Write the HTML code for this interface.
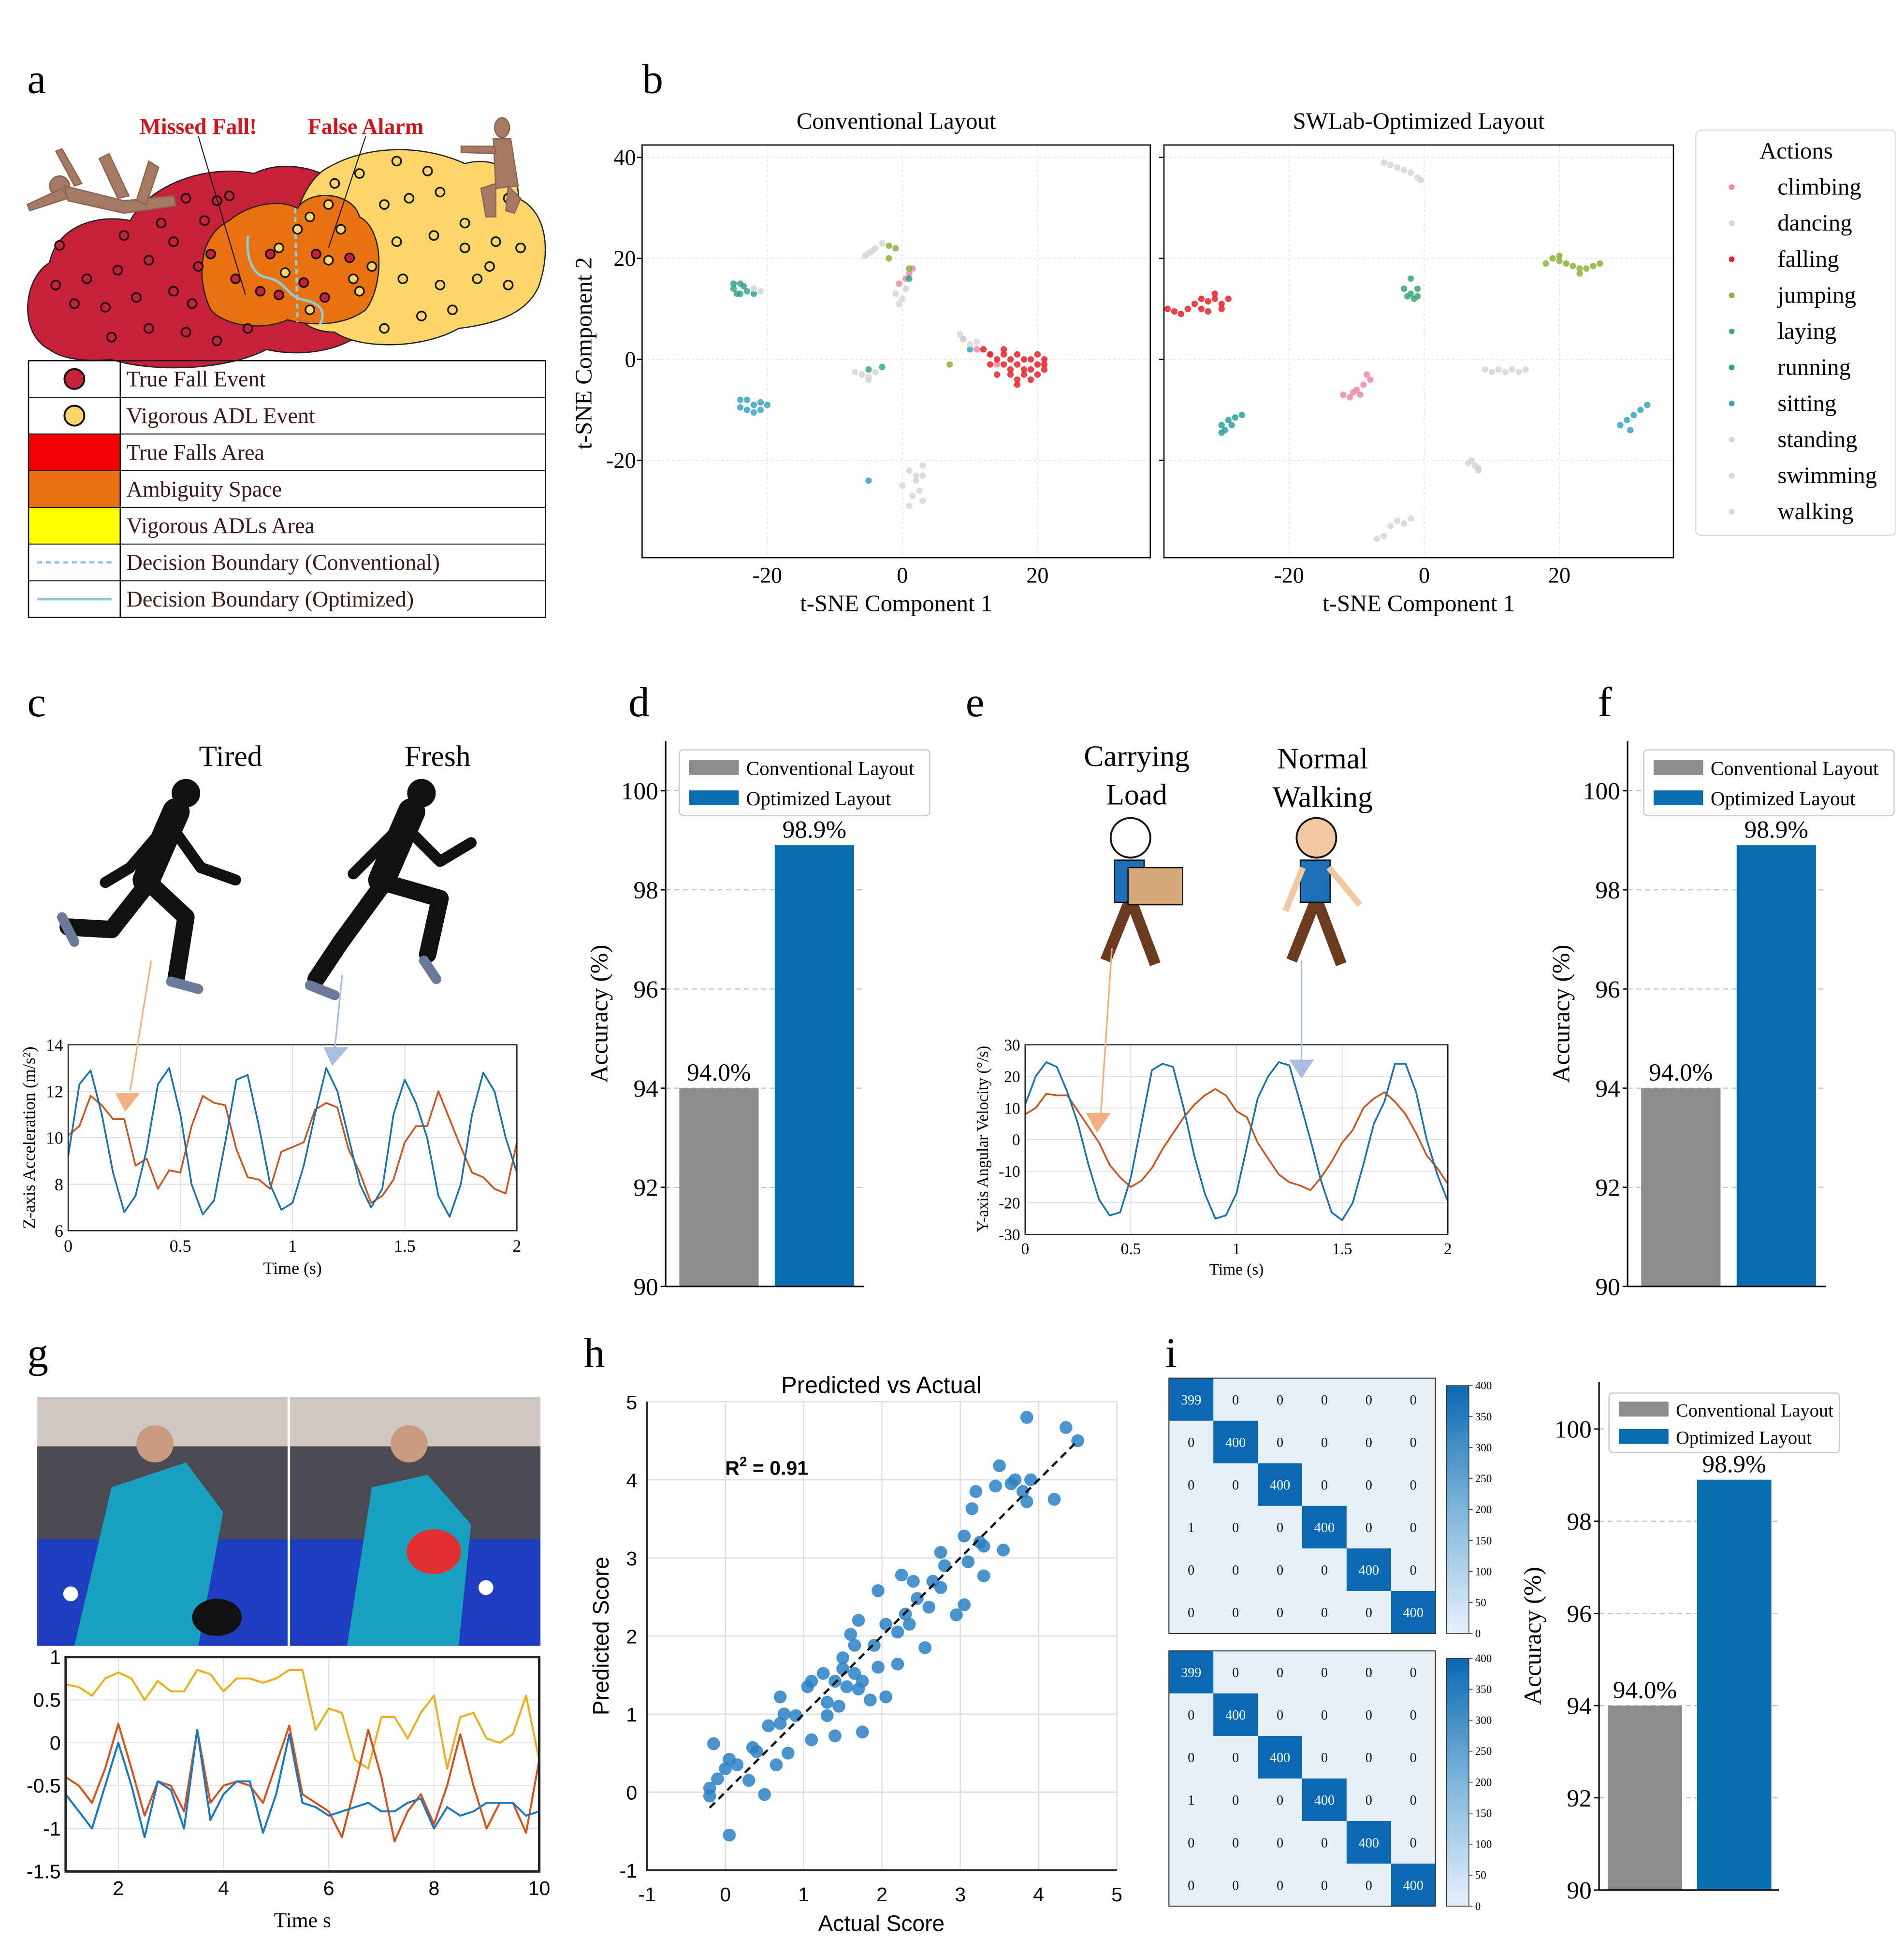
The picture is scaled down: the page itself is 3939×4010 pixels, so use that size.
<!DOCTYPE html>
<html><head><meta charset="utf-8">
<style>
html,body{margin:0;padding:0;background:#fff;}
svg{display:block;}
.serif{font-family:"Liberation Serif",serif;}
.sans{font-family:"Liberation Sans",sans-serif;}
</style></head>
<body>
<svg id="fig" xmlns="http://www.w3.org/2000/svg" width="3939" height="4010" viewBox="0 0 1536 1563.7" font-family="Liberation Serif, serif">
<rect x="0" y="0" width="1536" height="1564" fill="#fff"/>
<!-- panel labels -->
<g font-size="34" fill="#000">
<text x="22" y="75">a</text>
<text x="518" y="75">b</text>
<text x="22" y="578">c</text>
<text x="507" y="578">d</text>
<text x="779" y="578">e</text>
<text x="1289" y="578">f</text>
<text x="22" y="1103">g</text>
<text x="471" y="1103">h</text>
<text x="940" y="1103">i</text>
</g>

<!-- PANEL A -->
<g id="pa">
<path d="M40,282 C15,270 18,225 40,212 C45,185 75,172 105,178 C120,150 165,132 205,140 C235,125 280,140 300,175 L305,250 C295,280 250,290 215,282 C180,300 120,300 90,290 C70,292 50,290 40,282 Z" fill="#c8203a" stroke="#222" stroke-width="1"/>
<path d="M240,255 C225,220 235,150 265,135 C300,115 345,118 375,132 C400,125 420,140 418,160 C440,170 445,200 435,230 C425,255 395,262 370,265 C340,282 290,282 270,268 C255,268 245,262 240,255 Z" fill="#fdd66a" stroke="#222" stroke-width="1"/>
<path d="M170,250 C158,225 160,190 185,178 C200,165 225,160 240,168 C250,152 285,155 290,175 C310,185 310,230 295,250 C275,265 245,262 232,258 C210,268 180,262 170,250 Z" fill="#e8720f" stroke="#222" stroke-width="1"/>
<path d="M238,168 L240,260" stroke="#8fcbd8" stroke-width="2" stroke-dasharray="4,3" fill="none"/>
<path d="M200,190 C198,210 205,222 215,224 C230,226 232,240 245,242 C262,245 262,255 258,262" stroke="#8fcbd8" stroke-width="2" fill="none"/>
<g id="adots"></g>
<line x1="160" y1="110" x2="198" y2="238" stroke="#111" stroke-width="0.8"/>
<line x1="295" y1="110" x2="265" y2="200" stroke="#111" stroke-width="0.8"/>
<text x="160" y="108" text-anchor="middle" font-size="18" font-weight="bold" fill="#d0121b">Missed Fall!</text>
<text x="295" y="108" text-anchor="middle" font-size="18" font-weight="bold" fill="#d0121b">False Alarm</text>
<!-- mannequins -->
<g fill="#a57a62" stroke="#8a6450" stroke-width="1">
<ellipse cx="48" cy="150" rx="8" ry="8"/>
<path d="M52,150 L100,162 L140,158 L142,166 L100,172 L55,162 Z"/>
<path d="M95,160 L80,128 L88,124 L104,158 Z"/>
<path d="M110,162 L120,130 L128,135 L118,165 Z"/>
<path d="M50,152 L22,165 L24,170 L55,160 Z"/>
<path d="M60,150 L45,122 L50,120 L66,148 Z"/>
</g>
<g fill="#a57a62" stroke="#8a6450" stroke-width="1">
<ellipse cx="405" cy="103" rx="6" ry="8"/>
<path d="M398,112 L412,112 L418,150 L400,152 Z"/>
<path d="M399,118 L372,118 L372,123 L400,124 Z"/>
<path d="M400,148 L388,152 L392,175 L400,175 Z"/>
<path d="M410,150 L420,160 L415,172 L408,170 Z"/>
</g>
</g>
<g id="alegend" font-size="18" fill="#3a1a1a"></g>

<!-- PANEL B -->
<g id="pb"></g>

<!-- PANEL C -->
<g id="pc"></g>
<!-- PANEL E -->
<g id="pe"></g>
<!-- PANEL D, F, I bars -->
<g id="pd"></g><g id="pf"></g><g id="pi2"></g>
<!-- PANEL G -->
<g id="pg"></g>
<!-- PANEL H -->
<g id="ph"></g>
<!-- PANEL I matrices -->
<g id="pi"></g>
</svg>
<script>
// ======== DATA ========
// Panel b: t-SNE clusters (conventional)
const actions = ['climbing','dancing','falling','jumping','laying','running','sitting','standing','swimming','walking'];
const actionColors = ['#ec8aa2','#d6d6d6','#e82028','#8ab43a','#3aa878','#2aa39a','#3aa3c6','#d6d6d6','#d6d6d6','#d6d6d6'];
const convClimbing = [[0.5,16],[1,17],[-0.5,15],[1.5,18],[9,4],[11,2],[13,1],[14,-1]];
const convDancing = [[-4,22],[-5,21],[-3,23],[-4.5,21.5],[-5.5,20.5]];
const convFalling = [[12,2],[13,1],[14,0],[15,-1],[15,1],[16,0],[16,-2],[17,-1],[17,1],[18,0],[18,-3],[19,-2],[19,0],[20,-1],[20,-3],[21,-1],[21,0],[14,-3],[16,-3],[17,-4],[18,-2],[19,-4],[15,2],[20,1],[13,-1],[17,-5],[21,-2]];
const convJumping = [[-2,22.5],[-1,22],[7,-1],[1,18],[-2,20]];
const convLaying = [[-25,14],[-24,15],[-23,13.5],[-24.5,13],[-5,-2],[-3,-1.5]];
const convRunning = [[-24,13],[-23.5,14.5],[-22,13],[-25,15],[1,16]];
const convSitting = [[-24,-8],[-23,-10],[-22,-9],[-21,-8.5],[-20,-9],[-23,-8],[-22,-10.5],[-24,-9.5],[-21,-10],[-5,-24],[10,2]];
const convStanding = [[-1,13],[0,12],[0.5,14],[-0.5,11],[-22,14],[-21,13.5]];
const convSwimming = [[-6,-3],[-5,-3.5],[-4,-2.5],[-7,-2.5],[-5,-4],[9,4],[10,3],[11,3.5],[8.5,5]];
const convWalking = [[1,-22],[2,-24],[3,-23],[0,-25],[1.5,-27],[2.5,-26],[3,-28],[1,-29],[2,-23],[3,-21]];
// Panel b: t-SNE clusters (optimized)
const optClimbing = [[-12,-7],[-11,-7.5],[-10,-6],[-9,-5],[-8,-4],[-9.5,-7],[-10.5,-6.5],[-8.5,-3]];
const optDancing = [[-6,39],[-5,38.5],[-4,38],[-3,37.5],[-2,37],[-1,36],[-0.5,35.5]];
const optFalling = [[-38,10],[-36,9],[-35,10],[-34,11],[-33,10],[-32,11.5],[-31,12],[-30,11],[-29,12],[-32,9.5],[-30,10],[-33,12],[-37,9.5],[-31,13]];
const optJumping = [[18,19],[19,20],[20,19.5],[21,19],[22,18.5],[23,18],[24,18],[25,18.5],[20,20.5],[26,19],[23,17]];
const optLaying = [[-2,13],[-1,14],[-2.5,12.5],[-1.5,12],[-3,14],[-2,16],[-1,12.5]];
const optRunning = [[-30,-13],[-29,-12],[-28,-11.5],[-27,-11],[-29.5,-14],[-28.5,-13],[-30,-14.5]];
const optSitting = [[29,-13],[30,-12],[31,-11],[32,-10],[33,-9],[30.5,-14]];
const optStanding = [[9,-2],[10,-2.5],[11,-2],[12,-2.5],[13,-2],[15,-2],[14,-2.5]];
const optSwimming = [[7,-20],[7.5,-21],[8,-22],[6.5,-20.5],[8,-21.5]];
const optWalking = [[-6,-35],[-7,-35.5],[-4,-32],[-3,-32.5],[-2,-31.5],[-5,-33]];
const tsneTicksX = [-20,0,20];
const tsneTicksY = [40,20,0,-20];

// Panel c
const cTime = [0,0.05,0.1,0.15,0.2,0.25,0.3,0.35,0.4,0.45,0.5,0.55,0.6,0.65,0.7,0.75,0.8,0.85,0.9,0.95,1.0,1.05,1.1,1.15,1.2,1.25,1.3,1.35,1.4,1.45,1.5,1.55,1.6,1.65,1.7,1.75,1.8,1.85,1.9,1.95,2.0];
const cFresh = [9.2,12.3,12.9,11,8.5,6.8,7.5,9.5,12.3,13,11,8,6.7,7.3,9.8,12.5,12.7,10.5,8,6.9,7.2,8.8,11,13,12,10,8,7,7.8,11,12.5,11.5,10,7.5,6.6,8,11,12.8,12,10,8.5];
const cTired = [10.1,10.5,11.8,11.4,10.8,10.8,8.8,9.1,7.8,8.6,8.5,10.5,11.8,11.5,11.4,9.5,8.3,8.2,7.8,9.4,9.6,9.8,11.2,11.5,11.3,9.5,8.5,7.2,7.5,8.2,9.8,10.5,10.5,12,10.8,9.6,8.5,8.3,7.8,7.6,9.8];
const cTicksX = [0,0.5,1,1.5,2];
const cTicksY = [6,8,10,12,14];

// Panel e
const eTime = cTime;
const eNormal = [11,20,24.5,23,15,5,-8,-19,-24,-23,-12,5,22,24,23,10,-5,-17,-25,-24,-17,-2,13,20,24.5,23.5,12,0,-13,-23,-25.5,-20,-8,5,12,24,24,15,0,-11,-19.5];
const eLoad = [8,10,14.5,14,14,9,4,-1,-8,-12,-15,-13,-9,-3,2,7,11,14,16,14,9,7,-1,-6,-11,-13.5,-14.5,-16,-12,-7,-1,3,10,13,15,12,8,2,-5,-9,-14];
const eTicksX = [0,0.5,1,1.5,2];
const eTicksY = [-30,-20,-10,0,10,20,30];

// Bars (d, f, i)
const barCategories = ['Conventional Layout','Optimized Layout'];
const barValues = [94.0,98.9];
const barLabels = ['94.0%','98.9%'];
const barTicks = [90,92,94,96,98,100];

// Panel g
const gTime = [1,1.25,1.5,1.75,2,2.25,2.5,2.75,3,3.25,3.5,3.75,4,4.25,4.5,4.75,5,5.25,5.5,5.75,6,6.25,6.5,6.75,7,7.25,7.5,7.75,8,8.25,8.5,8.75,9,9.25,9.5,9.75,10];
const gYellow = [0.68,0.65,0.55,0.75,0.82,0.75,0.5,0.72,0.6,0.6,0.85,0.8,0.6,0.75,0.75,0.7,0.75,0.85,0.85,0.15,0.4,0.35,-0.2,-0.3,0.3,0.3,0.05,0.35,0.55,-0.3,0.3,0.35,0.05,0,0.1,0.55,-0.2];
const gOrange = [-0.4,-0.5,-0.7,-0.3,0.22,-0.3,-0.85,-0.45,-0.5,-0.8,0.15,-0.7,-0.5,-0.45,-0.5,-0.7,-0.25,0.2,-0.6,-0.7,-0.8,-1.1,-0.5,0.15,-0.4,-1.15,-0.8,-0.6,-0.95,-0.5,0.1,-0.5,-1.0,-0.7,-0.7,-1.05,-0.2];
const gBlue = [-0.6,-0.8,-1.0,-0.5,0,-0.5,-1.1,-0.45,-0.55,-1.0,0.15,-0.9,-0.6,-0.45,-0.45,-1.05,-0.6,0.1,-0.7,-0.75,-0.85,-0.8,-0.75,-0.7,-0.8,-0.8,-0.7,-0.65,-1.0,-0.75,-0.85,-0.8,-0.7,-0.7,-0.7,-0.85,-0.8];
const gTicksX = [2,4,6,8,10];
const gTicksY = [-1.5,-1,-0.5,0,0.5,1];

// Panel h
const hActual = [-0.2,-0.2,-0.15,-0.1,0,0.05,0.05,0.15,0.3,0.35,0.4,0.5,0.55,0.65,0.7,0.7,0.75,0.8,0.9,1.05,1.1,1.1,1.25,1.3,1.3,1.4,1.4,1.45,1.5,1.5,1.55,1.6,1.65,1.65,1.7,1.7,1.75,1.75,1.85,1.9,1.95,1.95,2.05,2.05,2.2,2.2,2.25,2.3,2.35,2.4,2.45,2.55,2.6,2.65,2.75,2.75,2.8,2.95,3.05,3.05,3.1,3.15,3.2,3.25,3.3,3.3,3.45,3.5,3.55,3.65,3.7,3.8,3.85,3.85,3.9,4.2,4.35,4.5];
const hPred = [0.05,-0.05,0.62,0.17,0.3,0.42,-0.55,0.35,0.15,0.57,0.52,-0.03,0.85,0.35,1.22,0.88,1.0,0.5,0.98,1.35,1.42,0.67,1.52,1.15,0.98,1.42,0.72,1.1,1.58,1.72,1.35,2.02,1.88,1.52,1.32,2.2,1.42,0.77,1.18,1.88,2.58,1.6,2.15,1.22,2.05,1.64,2.78,2.28,2.15,2.7,2.48,1.85,2.37,2.7,3.07,2.62,2.9,2.27,3.28,2.4,2.95,3.63,3.85,3.2,3.15,2.77,3.92,4.18,3.1,3.95,4.0,3.85,4.8,3.72,4.0,3.75,4.67,4.5];
const hTicksX = [-1,0,1,2,3,4,5];
const hTicksY = [-1,0,1,2,3,4,5];

// Panel i confusion matrices
const cmTop = [[399,0,0,0,0,0],[0,400,0,0,0,0],[0,0,400,0,0,0],[1,0,0,400,0,0],[0,0,0,0,400,0],[0,0,0,0,0,400]];
const cmBottom = [[399,0,0,0,0,0],[0,400,0,0,0,0],[0,0,400,0,0,0],[1,0,0,400,0,0],[0,0,0,0,400,0],[0,0,0,0,0,400]];
const cbTicks = [0,50,100,150,200,250,300,350,400];

// ======== HELPERS ========
const NS = 'http://www.w3.org/2000/svg';
function mk(tag, parent, attrs){ const e=document.createElementNS(NS,tag); for(const k in attrs) e.setAttribute(k,attrs[k]); parent.appendChild(e); return e; }
function lin(d0,d1,r0,r1){ return v => r0 + (v-d0)*(r1-r0)/(d1-d0); }
function txt(parent, x, y, s, attrs){ const t=mk('text',parent,Object.assign({x:x,y:y},attrs||{})); t.textContent=s; return t; }
function poly(xs, ys, sx, sy){ return xs.map((v,i)=>(i?'L':'M')+sx(v).toFixed(2)+','+sy(ys[i]).toFixed(2)).join(''); }

// ======== PANEL A dots & legend ========
(function(){
  const g=document.getElementById('adots');
  const redDots=[[48,198],[70,225],[95,218],[120,210],[140,195],[165,178],[150,160],[175,162],[185,158],[130,180],[60,245],[85,248],[110,240],[140,235],[160,215],[45,230],[90,272],[120,265],[150,268],[175,275],[200,265],[190,225],[210,235],[218,205],[225,238],[245,228],[255,205],[262,240],[282,208],[155,245],[100,190],[170,205]];
  const yelDots=[[225,200],[240,185],[270,148],[290,140],[320,130],[345,138],[355,155],[310,165],[330,160],[375,180],[395,170],[410,160],[320,195],[350,190],[375,200],[400,195],[420,200],[300,215],[325,225],[355,230],[385,225],[410,230],[290,235],[340,255],[365,250],[310,265],[265,210],[275,185],[250,175],[230,220],[250,250],[285,225],[265,165],[395,215]];
  redDots.forEach(p=>{ const c=mk('circle',g,{cx:p[0],cy:p[1],r:3.6,fill:'#c8203a',stroke:'#111','stroke-width':1.3});
      });
  yelDots.forEach(p=>{ const c=mk('circle',g,{cx:p[0],cy:p[1],r:3.6,fill:'#fdd66a',stroke:'#111','stroke-width':1.3});
      });
  const L=document.getElementById('alegend');
  const rows=['True Fall Event','Vigorous ADL Event','True Falls Area','Ambiguity Space','Vigorous ADLs Area','Decision Boundary (Conventional)','Decision Boundary (Optimized)'];
  const y0=291, rh=29.6;
  rows.forEach((r,i)=>{
    const y=y0+i*rh;
    if(i===2||i===3||i===4){ const rc=mk('rect',L,{x:23,y:y,width:74,height:rh,fill:['#f00000','#e8720f','#ffff00'][i-2]});
        }
    if(i<2){ const c=mk('circle',L,{cx:60,cy:y+rh/2,r:8,fill:i?'#fdd66a':'#c8203a',stroke:'#111','stroke-width':1.5});
        }
    if(i===5||i===6){ const ln=mk('line',L,{x1:30,x2:90,y1:y+rh/2,y2:y+rh/2,stroke:'#8fcbd8','stroke-width':2,'stroke-dasharray':i===5?'4,3':'none'});
        }
    const t=txt(L,102,y+rh/2+6,r,{});
     
  });
  mk('rect',L,{x:23,y:y0,width:417,height:rh*7,fill:'none',stroke:'#111','stroke-width':1});
  mk('line',L,{x1:97,x2:97,y1:y0,y2:y0+rh*7,stroke:'#111','stroke-width':1});
  for(let i=1;i<7;i++) mk('line',L,{x1:23,x2:440,y1:y0+i*rh,y2:y0+i*rh,stroke:'#111','stroke-width':0.8});
})();

// ======== PANEL B ========
(function(){
  const g=document.getElementById('pb');
  const convSets=[convClimbing,convDancing,convFalling,convJumping,convLaying,convRunning,convSitting,convStanding,convSwimming,convWalking];
  const optSets=[optClimbing,optDancing,optFalling,optJumping,optLaying,optRunning,optSitting,optStanding,optSwimming,optWalking];
  const panels=[{x0:518,x1:928,x0v:728,title:'Conventional Layout',sets:convSets,name:'tsne-conventional'},
                {x0:939,x1:1350,x0v:1149,title:'SWLab-Optimized Layout',sets:optSets,name:'tsne-optimized'}];
  const sy=lin(0,20,290,208.5);
  panels.forEach((p,pi)=>{
    const sx=lin(0,20,p.x0v,p.x0v+109);
    const pg=mk('g',g,{});
     
    tsneTicksX.forEach(v=>{ mk('line',pg,{x1:sx(v),x2:sx(v),y1:117,y2:450,stroke:'#e6e6e6','stroke-width':0.8,'stroke-dasharray':'2,2'});
      const t=txt(pg,sx(v),470,String(v),{'text-anchor':'middle','font-size':18});   });
    tsneTicksY.forEach(v=>{ mk('line',pg,{x1:p.x0,x2:p.x1,y1:sy(v),y2:sy(v),stroke:'#e6e6e6','stroke-width':0.8,'stroke-dasharray':'2,2'});
      mk('line',pg,{x1:p.x0-4,x2:p.x0,y1:sy(v),y2:sy(v),stroke:'#000','stroke-width':1});
      if(pi===0){ const t=txt(pg,p.x0-5,sy(v)+6,String(v),{'text-anchor':'end','font-size':18});   } });
    p.sets.forEach((s,si)=>{ s.forEach(pt=>{ const c=mk('circle',pg,{cx:sx(pt[0]),cy:sy(pt[1]),r:2.6,fill:actionColors[si],'fill-opacity':0.85});
        }); });
    mk('rect',pg,{x:p.x0,y:117,width:p.x1-p.x0,height:333,fill:'none',stroke:'#000','stroke-width':1});
    const tt=txt(pg,(p.x0+p.x1)/2,104,p.title,{'text-anchor':'middle','font-size':19});  
    const xl=txt(pg,(p.x0+p.x1)/2,493,'t-SNE Component 1',{'text-anchor':'middle','font-size':19});  
  });
  const yl=txt(g,0,0,'t-SNE Component 2',{'text-anchor':'middle','font-size':19,transform:'translate(477,285) rotate(-90)'});
   
  const lg=mk('g',g,{});  
  mk('rect',lg,{x:1368,y:105,width:161,height:327,rx:4,fill:'#fff',stroke:'#ddd','stroke-width':1});
  const lt=txt(lg,1449,128,'Actions',{'text-anchor':'middle','font-size':19});  
  actions.forEach((a,i)=>{ const y=151+i*29.1;
    const c=mk('circle',lg,{cx:1397,cy:y,r:2.3,fill:actionColors[i]});  
    const t=txt(lg,1434,y+6,a,{'font-size':19});   });
})();

// ======== LINE PLOTS C, E ========
function linePlot(gid, o){
  const g=document.getElementById(gid);
  const sx=lin(o.xd[0],o.xd[1],o.x0,o.x1), sy=lin(o.yd[0],o.yd[1],o.y1,o.y0);
  const pg=mk('g',g,{});  
  o.tx.forEach(v=>{ mk('line',pg,{x1:sx(v),x2:sx(v),y1:o.y0,y2:o.y1,stroke:'#e0e0e0','stroke-width':0.8});
    const t=txt(pg,sx(v),o.y1+o.tfs+3,String(v),{'text-anchor':'middle','font-size':o.tfs,'font-family':o.ff});   });
  o.ty.forEach(v=>{ mk('line',pg,{x1:o.x0,x2:o.x1,y1:sy(v),y2:sy(v),stroke:'#e0e0e0','stroke-width':0.8});
    const t=txt(pg,o.x0-4,sy(v)+o.tfs*0.35,String(v),{'text-anchor':'end','font-size':o.tfs,'font-family':o.ff});   });
  o.series.forEach(s=>{ const p=mk('path',pg,{d:poly(o.t,s.v,sx,sy),fill:'none',stroke:s.c,'stroke-width':s.w||1.4,'stroke-linejoin':'round'});
      });
  mk('rect',pg,{x:o.x0,y:o.y0,width:o.x1-o.x0,height:o.y1-o.y0,fill:'none',stroke:'#222','stroke-width':o.bw||1});
  if(o.xl){ const t=txt(pg,(o.x0+o.x1)/2,o.y1+o.tfs*2.5,o.xl,{'text-anchor':'middle','font-size':o.tfs});   }
  return pg;
}
linePlot('pc',{name:'acceleration-chart',x0:55,x1:417,y0:843,y1:993,xd:[0,2],yd:[6,14],tx:cTicksX,ty:cTicksY,t:cTime,tfs:14,xl:'Time (s)',
  series:[{v:cTired,c:'#c8551e',n:'tired-series'},{v:cFresh,c:'#1874a8',n:'fresh-series'}]});
linePlot('pe',{name:'angular-velocity-chart',x0:827,x1:1168,y0:843,y1:996,xd:[0,2],yd:[-30,30],tx:eTicksX,ty:eTicksY,t:eTime,tfs:13,xl:'Time (s)',
  series:[{v:eLoad,c:'#c8551e',n:'carrying-load-series'},{v:eNormal,c:'#1874a8',n:'normal-walking-series'}]});
linePlot('pg',{name:'table-tennis-chart',x0:53,x1:435,y0:1337,y1:1510,xd:[1,10],yd:[-1.5,1],tx:gTicksX,ty:gTicksY,t:gTime,tfs:16,ff:'Liberation Sans, sans-serif',bw:2,
  series:[{v:gYellow,c:'#e8b020',n:'series-yellow',w:1.6},{v:gOrange,c:'#d4521c',n:'series-orange',w:1.6},{v:gBlue,c:'#1a78c2',n:'series-blue',w:1.6}]});
(function(){
  const g=document.getElementById('pg');
  const t=txt(g,244,1555,'Time  s',{'text-anchor':'middle','font-size':17});  
  const pc=document.getElementById('pc');
  const yl=txt(pc,0,0,'Z-axis Acceleration (m/s²)',{'text-anchor':'middle','font-size':14,transform:'translate(28,918) rotate(-90)'});  
  const pe=document.getElementById('pe');
  const yl2=txt(pe,0,0,'Y-axis Angular Velocity (°/s)',{'text-anchor':'middle','font-size':13,transform:'translate(797,919) rotate(-90)'});  
  // headings & figures
  [['Tired',186,618],['Fresh',353,618]].forEach(a=>{ const t=txt(pc,a[1],a[2],a[0],{'text-anchor':'middle','font-size':24});   });
  [['Carrying',917,618],['Load',917,649],['Normal',1067,620],['Walking',1067,651]].forEach(a=>{ const t=txt(pe,a[1],a[2],a[0],{'text-anchor':'middle','font-size':24});   });
  // runners
  function runner(par, ox, fresh){
    const r=mk('g',par,{fill:'#111',stroke:'#111','stroke-linecap':'round','stroke-linejoin':'round'});
     
    mk('circle',r,{cx:ox+70,cy:640,r:11});
    mk('path',r,{d:`M${ox+62},655 L${ox+38},710`,'stroke-width':22,fill:'none'});
    if(!fresh){
      mk('path',r,{d:`M${ox+40},712 L${ox+10},750 L${ox-25},748`,'stroke-width':14,fill:'none'});
      mk('path',r,{d:`M${ox+40},712 L${ox+70},740 L${ox+62},790`,'stroke-width':14,fill:'none'});
      mk('path',r,{d:`M${ox+55},665 L${ox+25},700 L${ox+5},712`,'stroke-width':9,fill:'none'});
      mk('path',r,{d:`M${ox+62},672 L${ox+82},700 L${ox+110},710`,'stroke-width':9,fill:'none'});
      mk('path',r,{d:`M${ox-30},740 l10,20`,'stroke-width':8,stroke:'#6a7a99'});
      mk('path',r,{d:`M${ox+58},792 l22,6`,'stroke-width':8,stroke:'#6a7a99'});
    } else {
      mk('path',r,{d:`M${ox+40},712 L${ox+5},760 L${ox-15},790`,'stroke-width':14,fill:'none'});
      mk('path',r,{d:`M${ox+40},712 L${ox+85},725 L${ox+75},770`,'stroke-width':14,fill:'none'});
      mk('path',r,{d:`M${ox+55},665 L${ox+30},690 L${ox+15},705`,'stroke-width':9,fill:'none'});
      mk('path',r,{d:`M${ox+62},672 L${ox+85},695 L${ox+110},680`,'stroke-width':9,fill:'none'});
      mk('path',r,{d:`M${ox-20},795 l20,8`,'stroke-width':8,stroke:'#6a7a99'});
      mk('path',r,{d:`M${ox+72},775 l10,15`,'stroke-width':8,stroke:'#6a7a99'});
    }
  }
  runner(pc,80,false); runner(pc,270,true);
  mk('line',pc,{x1:122,y1:775,x2:105,y2:880,stroke:'#f2b080','stroke-width':1.3});
  mk('path',pc,{d:'M93,882 L113,882 L101,897 Z',fill:'#f2b080'});
  mk('line',pc,{x1:276,y1:787,x2:270,y2:847,stroke:'#aabde0','stroke-width':1.3});
  mk('path',pc,{d:'M261,845 L281,845 L268,860 Z',fill:'#aabde0'});
  // cartoon walkers
  function walker(par, ox, load){
    const w=mk('g',par,{});  
    mk('path',w,{d:`M${ox+5},725 L${ox-15},775 M${ox+5},725 L${ox+25},778`,stroke:'#6b3a1f','stroke-width':9,fill:'none'});
    mk('rect',w,{x:ox-8,y:694,width:24,height:34,fill:'#1f6fb8',stroke:'#111','stroke-width':1});
    mk('circle',w,{cx:ox+5,cy:676,r:16,fill:load?'#fff':'#f1c9a0',stroke:'#111','stroke-width':1.5});
    if(load) mk('rect',w,{x:ox+3,y:700,width:44,height:30,fill:'#d6a878',stroke:'#111','stroke-width':1});
    else mk('path',w,{d:`M${ox-6},700 L${ox-20},735 M${ox+15},700 L${ox+40},730`,stroke:'#f1c9a0','stroke-width':5,fill:'none'});
  }
  walker(pe,907,true); walker(pe,1057,false);
  mk('line',pe,{x1:897,y1:765,x2:888,y2:900,stroke:'#f2b080','stroke-width':1.3});
  mk('path',pe,{d:'M876,898 L896,898 L885,914 Z',fill:'#f2b080'});
  mk('line',pe,{x1:1050,y1:775,x2:1050,y2:855,stroke:'#aabde0','stroke-width':1.3});
  mk('path',pe,{d:'M1040,855 L1060,855 L1050,870 Z',fill:'#aabde0'});
  // photos panel g
  const ph=mk('g',g,{});  
  mk('rect',ph,{x:30,y:1127,width:406,height:201,fill:'#cfc8c2'});
  mk('rect',ph,{x:30,y:1167,width:406,height:75,fill:'#4a4a52'});
  mk('rect',ph,{x:30,y:1242,width:406,height:86,fill:'#1d3fbf'});
  mk('rect',ph,{x:232,y:1127,width:2,height:201,fill:'#fff'});
  mk('path',ph,{d:'M90,1200 L150,1180 L180,1220 L160,1328 L60,1328 Z',fill:'#1aa0c0'});
  mk('circle',ph,{cx:125,cy:1165,r:15,fill:'#c89a80'});
  mk('path',ph,{d:'M300,1200 L345,1190 L380,1230 L370,1328 L280,1328 Z',fill:'#1aa0c0'});
  mk('circle',ph,{cx:330,cy:1165,r:15,fill:'#c89a80'});
  mk('ellipse',ph,{cx:350,cy:1252,rx:22,ry:18,fill:'#e03030'});
  mk('ellipse',ph,{cx:175,cy:1305,rx:20,ry:15,fill:'#111'});
  mk('circle',ph,{cx:57,cy:1286,r:6,fill:'#fff'}); mk('circle',ph,{cx:392,cy:1281,r:6,fill:'#fff'});
})();

// ======== BARS d, f, i ========
function barPlot(gid, o){
  const g=document.getElementById(gid);
  const pg=mk('g',g,{});  
  const sy=lin(90,100,o.yb,o.y100);
  barTicks.forEach(v=>{ if(v>90) mk('line',pg,{x1:o.ax,x2:o.ax+o.w,y1:sy(v),y2:sy(v),stroke:'#bbb','stroke-width':0.8,'stroke-dasharray':'4,3'});
    mk('line',pg,{x1:o.ax-4,x2:o.ax,y1:sy(v),y2:sy(v),stroke:'#000'});
    const t=txt(pg,o.ax-6,sy(v)+7,String(v),{'text-anchor':'end','font-size':20});   });
  const cols=['#8c8c8c','#0a6db0'];
  barValues.forEach((v,i)=>{ const x=o.bx[i];
    const b=mk('rect',pg,{x:x,y:sy(v),width:o.bw,height:o.yb-sy(v),fill:cols[i]});  
    const t=txt(pg,x+o.bw/2,sy(v)-6,barLabels[i],{'text-anchor':'middle','font-size':20});   });
  mk('line',pg,{x1:o.ax,x2:o.ax,y1:o.top,y2:o.yb,stroke:'#000','stroke-width':1.2});
  mk('line',pg,{x1:o.ax,x2:o.ax+o.w,y1:o.yb,y2:o.yb,stroke:'#000','stroke-width':1.2});
  const yl=txt(pg,0,0,'Accuracy (%)',{'text-anchor':'middle','font-size':20,transform:`translate(${o.ax-47},${(o.top+o.yb)/2}) rotate(-90)`});  
  const lg=mk('g',pg,{});  
  mk('rect',lg,{x:o.lx,y:o.ly,width:o.lw,height:o.lh,rx:3,fill:'#fff',stroke:'#ccc'});
  barCategories.forEach((c,i)=>{ const y=o.ly+o.lh*(0.27+0.46*i);
    mk('rect',lg,{x:o.lx+8,y:y-6,width:40,height:12,fill:cols[i]});
    const t=txt(lg,o.lx+54,y+6,c,{'font-size':o.lfs});   });
}
barPlot('pd',{name:'accuracy-bar-chart-d',ax:537,w:160,top:598,yb:1038,y100:638,bx:[548,625],bw:64,lx:548,ly:605,lw:202,lh:53,lfs:16});
barPlot('pf',{name:'accuracy-bar-chart-f',ax:1313,w:160,top:598,yb:1038,y100:638,bx:[1324,1401],bw:64,lx:1326,ly:605,lw:202,lh:53,lfs:16});
barPlot('pi2',{name:'accuracy-bar-chart-i',ax:1290,w:145,top:1115,yb:1525,y100:1153,bx:[1297,1369],bw:60,lx:1298,ly:1124,lw:186,lh:48,lfs:15});

// ======== PANEL H ========
(function(){
  const g=document.getElementById('ph');
  const pg=mk('g',g,{});  
  const sx=lin(-1,5,522,901), sy=lin(-1,5,1509,1131);
  hTicksX.forEach(v=>{ mk('line',pg,{x1:sx(v),x2:sx(v),y1:1131,y2:1509,stroke:'#ddd','stroke-width':1});
    const t=txt(pg,sx(v),1534,String(v),{'text-anchor':'middle','font-size':16,'font-family':'Liberation Sans, sans-serif'});   });
  hTicksY.forEach(v=>{ mk('line',pg,{x1:522,x2:901,y1:sy(v),y2:sy(v),stroke:'#ddd','stroke-width':1});
    const t=txt(pg,514,sy(v)+6,String(v),{'text-anchor':'end','font-size':16,'font-family':'Liberation Sans, sans-serif'});   });
  hActual.forEach((a,i)=>{ const c=mk('circle',pg,{cx:sx(a),cy:sy(hPred[i]),r:5.2,fill:'#2c80c3','fill-opacity':0.85});
      });
  const fl=mk('line',pg,{x1:sx(-0.2),y1:sy(-0.2),x2:sx(4.5),y2:sy(4.5),stroke:'#111','stroke-width':1.8,'stroke-dasharray':'6,4'});
   
  mk('path',pg,{d:'M522,1131 L522,1509 L901,1509',fill:'none',stroke:'#222','stroke-width':1.5});
  const tt=txt(pg,711,1124,'Predicted vs Actual',{'text-anchor':'middle','font-size':19,'font-family':'Liberation Sans, sans-serif'});  
  const r2=txt(pg,585,1190,'',{'font-size':16,'font-weight':'bold','font-family':'Liberation Sans, sans-serif'}); r2.innerHTML='R<tspan dy="-7" font-size="11">2</tspan><tspan dy="7"> = 0.91</tspan>';
   
  const xl=txt(pg,711,1558,'Actual Score',{'text-anchor':'middle','font-size':18,'font-family':'Liberation Sans, sans-serif'});  
  const yl=txt(pg,0,0,'Predicted Score',{'text-anchor':'middle','font-size':18,'font-family':'Liberation Sans, sans-serif',transform:'translate(491,1320) rotate(-90)'});  
})();

// ======== PANEL I matrices ========
(function(){
  const g=document.getElementById('pi');
  const defs=mk('defs',g,{});
  const lgd=mk('linearGradient',defs,{id:'cbg',x1:0,y1:1,x2:0,y2:0});
  mk('stop',lgd,{offset:0,'stop-color':'#e7f0f9'}); mk('stop',lgd,{offset:0.5,'stop-color':'#7fb5dc'}); mk('stop',lgd,{offset:1,'stop-color':'#0b68b2'});
  function colorFor(v){ const t=v/400; const a=[231,240,249], b=[11,104,178]; return 'rgb('+a.map((c,i)=>Math.round(c+(b[i]-c)*t)).join(',')+')'; }
  [[cmTop,1112,'confusion-matrix-conventional'],[cmBottom,1332,'confusion-matrix-optimized']].forEach(m=>{
    const data=m[0], y0=m[1];
    const pg=mk('g',g,{});  
    const cw=215/6, ch=206/6;
    data.forEach((row,r)=>row.forEach((v,c)=>{
      const cell=mk('rect',pg,{x:943+c*cw,y:y0+r*ch,width:cw+0.3,height:ch+0.3,fill:colorFor(v)});
       
      const t=txt(pg,943+c*cw+cw/2,y0+r*ch+ch/2+4,String(v),{'text-anchor':'middle','font-size':11,fill:v>200?'#fff':'#111'});
       
    }));
    mk('rect',pg,{x:943,y:y0,width:215,height:206,fill:'none',stroke:'#333','stroke-width':0.8});
    const cb=mk('rect',pg,{x:1167,y:y0+6,width:18,height:200,fill:'url(#cbg)',stroke:'#333','stroke-width':0.6});
     
    cbTicks.forEach(v=>{ const y=y0+206-v/400*200;
      mk('line',pg,{x1:1185,x2:1188,y1:y,y2:y,stroke:'#333','stroke-width':0.6});
      const t=txt(pg,1190,y+3,String(v),{'font-size':9});   });
  });
})();
</script>
</body></html>
